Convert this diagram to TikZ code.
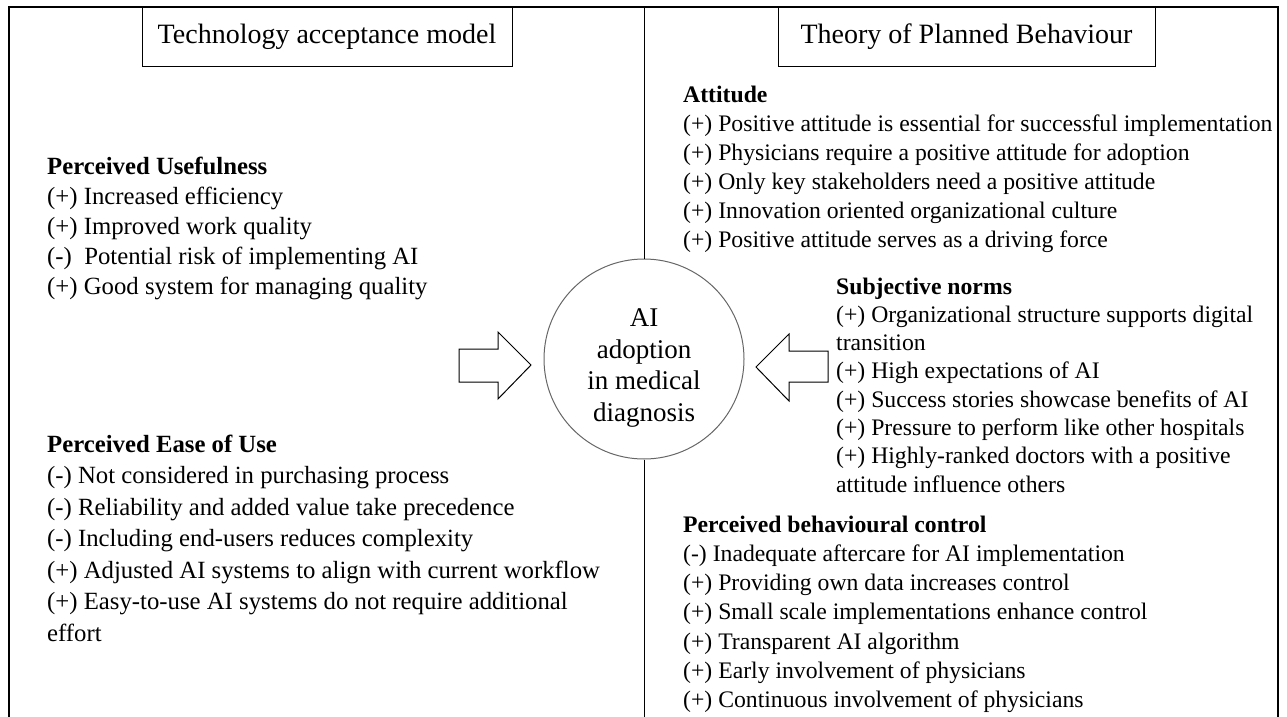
\documentclass[tikz,border=0pt]{standalone}
\usepackage{fontspec}
\setmainfont{Liberation Serif}
\begin{document}
\begin{tikzpicture}[x=1pt,y=-1pt,
  lbody/.style={font=\fontsize{24.75}{28}\selectfont, inner sep=0, anchor=base west},
  rbody/.style={font=\fontsize{23.7}{28}\selectfont, inner sep=0, anchor=base west},
  hdr/.style={font=\fontsize{28}{32}\selectfont, inner sep=0},
  frame/.style={line width=1.2pt, black},
  arrowshape/.style={line width=1pt, black, fill=white}]
\useasboundingbox (0,0) rectangle (1287,717);
% frame
\draw[frame] (9,717) -- (9,7) -- (1278,7) -- (1278,717);
% header boxes
\draw[line width=1pt] (142,7) rectangle (512,67);
\node[hdr] (tam) at (327,37) {Technology acceptance model};
\draw[line width=1pt] (778,7) rectangle (1155,67);
\node[hdr] (tpb) at (966.5,37) {Theory of Planned Behaviour};
% centre
\node[draw=black!60, line width=1pt, circle, minimum size=200pt, inner sep=0] (ai) at (644,359) {};
\node[font=\fontsize{27}{31.5}\selectfont, align=center, inner sep=0] (aitext) at (644,368)
      {AI\\adoption\\in medical\\diagnosis};
\coordinate (ctop) at (644,7);
\coordinate (cbot) at (644,717);
\draw[line width=1pt] (ctop) -- (ai.north);
\draw[line width=1pt] (ai.south) -- (cbot);
% arrows
\draw[arrowshape] (459,349) -- (498,349) -- (498,332) -- (531,365) -- (498,399) -- (498,382) -- (459,382) -- cycle;
\draw[arrowshape] (828,351) -- (789,351) -- (789,334) -- (756,367) -- (789,401) -- (789,382) -- (828,382) -- cycle;
% left: perceived usefulness
\node[lbody, font=\fontsize{24.75}{28}\selectfont\bfseries] (pu) at (47,174) {Perceived Usefulness};
\foreach \t [count=\i] in {(+) Increased efficiency,(+) Improved work quality,(-)\ \ Potential risk of implementing AI,(+) Good system for managing quality}
  \node[lbody] (pu\i) at (47,174+30*\i) {\t};
% left: perceived ease of use
\node[lbody, font=\fontsize{24.75}{28}\selectfont\bfseries] (peou) at (47,452) {Perceived Ease of Use};
\foreach \t [count=\i] in {(-) Not considered in purchasing process,(-) Reliability and added value take precedence,(-) Including end-users reduces complexity,(+) Adjusted AI systems to align with current workflow,(+) Easy-to-use AI systems do not require additional,effort}
  \node[lbody] (peou\i) at (47,452+31.5*\i) {\t};
% right: attitude
\node[rbody, font=\fontsize{23.7}{28}\selectfont\bfseries] (att) at (683,102) {Attitude};
\foreach \t [count=\i] in {(+) Positive attitude is essential for successful implementation,(+) Physicians require a positive attitude for adoption,(+) Only key stakeholders need a positive attitude,(+) Innovation oriented organizational culture,(+) Positive attitude serves as a driving force}
  \node[rbody] (att\i) at (683,102+29*\i) {\t};
% right: subjective norms
\node[rbody, font=\fontsize{23.7}{28}\selectfont\bfseries] (sn) at (836,294) {Subjective norms};
\foreach \t [count=\i] in {(+) Organizational structure supports digital,transition,(+) High expectations of AI,(+) Success stories showcase benefits of AI,(+) Pressure to perform like other hospitals,(+) Highly-ranked doctors with a positive,attitude influence others}
  \node[rbody] (sn\i) at (836,294+28.3*\i) {\t};
% right: perceived behavioural control
\node[rbody, font=\fontsize{23.7}{28}\selectfont\bfseries] (pbc) at (683,532) {Perceived behavioural control};
\foreach \t [count=\i] in {(-) Inadequate aftercare for AI implementation,(+) Providing own data increases control,(+) Small scale implementations enhance control,(+) Transparent AI algorithm,(+) Early involvement of physicians,(+) Continuous involvement of physicians}
  \node[rbody] (pbc\i) at (683,532+29.3*\i) {\t};
\end{tikzpicture}
\end{document}
